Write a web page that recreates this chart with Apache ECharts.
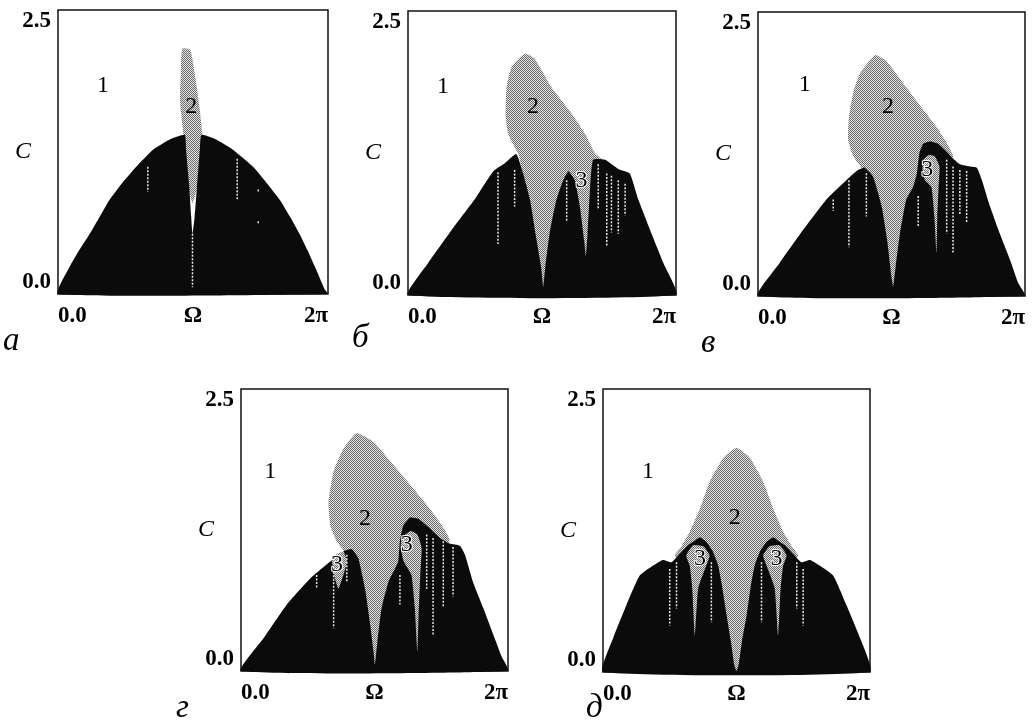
<!DOCTYPE html>
<html><head><meta charset="utf-8">
<script src="https://cdn.jsdelivr.net/npm/echarts@6/dist/echarts.min.js"></script>
<style>html,body{margin:0;padding:0;background:#fff}#c{width:1033px;height:728px}</style>
</head><body><div id="c"></div>
<script>
const PI = Math.PI;
const xTickLabels = ['0.0', 'Ω', '2π'];
const yTickLabels = ['0.0', 'C', '2.5'];
const panelLetters = ['а', 'б', 'в', 'г', 'д'];

// ---- panel а ----
const blackA = [[0,0],[0.27,0.24],[0.50,0.39],[0.74,0.53],[0.97,0.68],[1.20,0.83],[1.50,0.98],[1.82,1.12],[2.21,1.27],[2.60,1.36],[2.95,1.40],[2.98,1.27],[3.05,0.97],[3.10,0.68],[3.13,0.53],[3.18,0.68],[3.24,0.97],[3.30,1.27],[3.34,1.40],[3.68,1.36],[4.07,1.27],[4.54,1.12],[4.85,0.98],[5.16,0.83],[5.40,0.68],[5.62,0.53],[5.80,0.39],[5.98,0.24],[6.21,0.04],[6.283,0]];
const greyA = [[2.89,2.16],[3.08,2.15],[3.22,1.85],[3.30,1.62],[3.36,1.40],[3.33,1.27],[3.26,0.97],[3.13,0.80],[3.02,0.97],[2.95,1.27],[2.92,1.40],[2.84,1.70],[2.86,1.95]];
const streaksA = [[2.09,1.12,0.90],[4.17,1.19,0.83],[4.66,0.92,0.89],[4.66,0.64,0.62],[3.13,0.53,0.06]];
const labelsA = [{t:'1',v:[1.05,1.83]},{t:'2',v:[3.10,1.65]}];

// ---- panel б ----
const blackB = [[0,0],[0.47,0.28],[1.02,0.57],[1.56,0.84],[2.00,1.09],[2.27,1.16],[2.54,1.24],[2.70,1.07],[2.86,0.84],[2.99,0.54],[3.12,0.25],[3.17,0.07],[3.22,0.25],[3.32,0.54],[3.48,0.84],[3.64,1.01],[3.76,1.09],[3.91,1.01],[4.03,0.78],[4.13,0.48],[4.17,0.34],[4.21,0.54],[4.27,0.95],[4.34,1.19],[4.62,1.19],[4.93,1.11],[5.20,1.07],[5.40,0.84],[5.71,0.54],[5.99,0.28],[6.283,0]];
const greyB = [[2.74,2.125],[2.97,2.08],[3.36,1.83],[3.83,1.60],[4.15,1.42],[4.38,1.25],[4.54,1.19],[4.40,0.90],[4.20,0.30],[3.17,0],[2.75,0.95],[2.59,1.24],[2.50,1.30],[2.35,1.42],[2.29,1.57],[2.31,1.83],[2.43,2.01]];
const streaksB = [[2.11,1.08,0.45],[2.50,1.10,0.78],[3.72,1.01,0.65],[4.46,1.15,0.75],[4.66,1.07,0.43],[4.77,1.05,0.55],[4.93,1.01,0.54],[5.09,0.98,0.70]];
const labelsB = [{t:'1',v:[0.82,1.83]},{t:'2',v:[2.93,1.66]},{t:'3',v:[4.07,1.01]}];

// ---- panel в ----
const blackV = [[0,0],[0.51,0.29],[1.06,0.58],[1.61,0.85],[2.08,1.02],[2.32,1.10],[2.51,1.13],[2.71,1.05],[2.91,0.79],[3.04,0.49],[3.14,0.17],[3.18,0.08],[3.24,0.26],[3.34,0.55],[3.49,0.85],[3.65,0.96],[3.74,1.08],[3.80,1.26],[3.89,1.34],[4.05,1.36],[4.24,1.34],[4.44,1.27],[4.59,1.21],[4.75,1.16],[4.99,1.14],[5.15,1.13],[5.27,1.02],[5.46,0.79],[5.69,0.55],[5.93,0.32],[6.13,0.11],[6.283,0]];
const greyV = [[2.75,2.12],[3.02,2.07],[3.42,1.87],[3.89,1.64],[4.20,1.49],[4.44,1.35],[4.59,1.23],[4.40,0.90],[3.18,0],[2.80,0.90],[2.43,1.13],[2.24,1.23],[2.12,1.375],[2.14,1.58],[2.24,1.79],[2.40,1.96]];
const region3V = [[3.89,1.20],[4.01,1.24],[4.16,1.23],[4.27,1.14],[4.25,0.96],[4.22,0.70],[4.20,0.38],[4.15,0.70],[4.08,0.96],[3.93,1.02],[3.87,1.11]];
const streaksV = [[1.77,0.85,0.75],[2.14,1.02,0.43],[2.55,1.08,0.70],[3.77,0.88,0.61],[4.44,1.20,0.55],[4.59,1.14,0.38],[4.75,1.11,0.71],[4.91,1.10,0.64]];
const labelsV = [{t:'1',v:[1.10,1.86]},{t:'2',v:[3.06,1.67]},{t:'3',v:[3.98,1.11]}];

// ---- panel г ----
const blackG = [[0,0],[0.53,0.29],[1.08,0.59],[1.63,0.82],[2.10,0.97],[2.41,1.06],[2.61,1.08],[2.76,1.00],[2.92,0.73],[3.03,0.44],[3.12,0.17],[3.15,0.05],[3.21,0.26],[3.31,0.56],[3.47,0.79],[3.63,0.91],[3.70,0.97],[3.74,1.15],[3.82,1.29],[3.98,1.36],[4.17,1.35],[4.40,1.28],[4.68,1.18],[4.91,1.13],[5.15,1.11],[5.27,1.03],[5.46,0.79],[5.70,0.56],[5.97,0.29],[6.13,0.13],[6.283,0]];
const greyG = [[2.72,2.11],[3.12,2.03],[3.58,1.83],[4.05,1.62],[4.44,1.44],[4.76,1.27],[4.91,1.16],[4.50,0.90],[3.15,0],[2.80,0.85],[2.41,1.07],[2.25,1.15],[2.10,1.29],[2.06,1.50],[2.18,1.77],[2.41,1.97]];
const region3G1 = [[2.14,1.01],[2.41,1.06],[2.49,0.97],[2.41,0.85],[2.29,0.73],[2.19,0.85]];
const region3G2 = [[3.78,1.18],[3.98,1.24],[4.15,1.21],[4.25,1.09],[4.22,0.85],[4.18,0.50],[4.15,0.17],[4.09,0.56],[4.01,0.85],[3.83,0.97],[3.76,1.09]];
const streaksG = [[1.78,0.85,0.73],[2.18,0.88,0.38],[2.49,1.03,0.79],[3.74,0.85,0.59],[4.37,1.21,0.73],[4.52,1.18,0.32],[4.76,1.15,0.56],[4.99,1.10,0.66]];
const labelsG = [{t:'1',v:[0.69,1.77]},{t:'2',v:[2.92,1.35]},{t:'3',v:[2.26,0.94]},{t:'3',v:[3.90,1.12]}];

// ---- panel д ----
const blackD = [[0,0],[0.24,0.30],[0.55,0.59],[0.86,0.85],[1.18,0.94],[1.41,0.99],[1.61,0.97],[1.77,1.03],[2.00,1.12],[2.16,1.16],[2.28,1.19],[2.43,1.15],[2.59,1.06],[2.71,0.94],[2.81,0.74],[2.91,0.50],[3.01,0.27],[3.09,0.06],[3.14,0.01],[3.19,0.06],[3.27,0.27],[3.38,0.50],[3.47,0.74],[3.57,0.94],[3.69,1.06],[3.85,1.15],[4.01,1.19],[4.12,1.16],[4.28,1.12],[4.51,1.03],[4.67,0.97],[4.87,0.99],[5.10,0.94],[5.42,0.85],[5.73,0.59],[6.05,0.30],[6.283,0]];
const greyD = [[3.14,1.98],[3.46,1.89],[3.77,1.68],[4.01,1.44],[4.24,1.24],[4.48,1.09],[4.59,1.03],[4.20,0.80],[3.14,-0.01],[2.10,0.80],[1.69,1.03],[1.81,1.09],[2.04,1.24],[2.28,1.44],[2.51,1.68],[2.83,1.89]];
const region3D1 = [[2.12,1.12],[2.36,1.11],[2.51,1.03],[2.40,0.91],[2.24,0.74],[2.16,0.32],[2.10,0.74],[2.04,0.94],[1.96,1.03]];
const region3D2 = [[4.16,1.12],[3.92,1.11],[3.77,1.03],[3.88,0.91],[4.04,0.74],[4.12,0.32],[4.18,0.74],[4.24,0.94],[4.32,1.03]];
const streaksD = [[1.57,0.91,0.41],[1.73,0.97,0.56],[2.55,0.97,0.44],[3.73,0.97,0.44],[4.56,0.97,0.56],[4.71,0.91,0.41]];
const labelsD = [{t:'1',v:[1.06,1.77]},{t:'2',v:[3.10,1.36]},{t:'3',v:[2.28,1.00]},{t:'3',v:[4.08,1.00]}];

// ---- layout / style ----
const grids = [
  {left:58, top:10, width:270, height:284},
  {left:408, top:11, width:268, height:284},
  {left:758, top:12, width:267, height:284},
  {left:241, top:389, width:267, height:282},
  {left:603, top:389, width:267, height:283}
];
const letterPos = [[13,345],[362,342],[711,347],[186,712],[596,712]];
const panels = [
  {black:blackA, grey:greyA, r3:[], streaks:streaksA, labels:labelsA},
  {black:blackB, grey:greyB, r3:[], streaks:streaksB, labels:labelsB},
  {black:blackV, grey:greyV, r3:[region3V], streaks:streaksV, labels:labelsV},
  {black:blackG, grey:greyG, r3:[region3G1, region3G2], streaks:streaksG, labels:labelsG},
  {black:blackD, grey:greyD, r3:[region3D1, region3D2], streaks:streaksD, labels:labelsD}
];

const cv = document.createElement('canvas');
cv.width = 2; cv.height = 2;
const cx = cv.getContext('2d');
cx.fillStyle = '#e0e0e0'; cx.fillRect(0,0,2,2);
cx.fillStyle = '#6e6e6e'; cx.fillRect(0,0,1,1); cx.fillRect(1,1,1,1);
const stipple = {type:'pattern', image: cv, repeat: 'repeat'};
const FONT = 'Liberation Serif';

function polySeries(g, pts, fill, z) {
  return {
    type:'custom', xAxisIndex:g, yAxisIndex:g, data: pts, z: z, silent:true,
    encode:{x:0, y:1},
    renderItem: function(params, api) {
      if (params.dataIndex !== 0) return null;
      return {type:'polygon', shape:{points: pts.map(p => api.coord(p)), smooth:0.15}, style:{fill: fill, stroke: null}};
    }
  };
}
function streakSeries(g, arr) {
  return {
    type:'custom', xAxisIndex:g, yAxisIndex:g, data: arr, z: 4, silent:true,
    encode:{x:0, y:[1,2]},
    renderItem: function(params, api) {
      const p1 = api.coord([api.value(0), api.value(1)]);
      const p2 = api.coord([api.value(0), api.value(2)]);
      return {type:'line', shape:{x1:p1[0], y1:p1[1], x2:p2[0], y2:p2[1]},
        style:{stroke:'#e8e8e8', lineWidth:1.5, lineDash:[2,1.5]}};
    }
  };
}
function labelSeries(g, labs) {
  return {
    type:'custom', xAxisIndex:g, yAxisIndex:g, data: labs.map(l => l.v), z: 6, silent:true,
    encode:{x:0, y:1},
    renderItem: function(params, api) {
      const p = api.coord([api.value(0), api.value(1)]);
      const t = labs[params.dataIndex].t;
      return {type:'text', x:p[0], y:p[1], z2: 10, style:{text:t, fill:'#000', font:'24px "' + FONT + '"',
        align:'center', verticalAlign:'middle',
        stroke: t === '3' ? '#fff' : null, lineWidth: t === '3' ? 2 : 0}};
    }
  };
}

const xAxes = [], yAxes = [], series = [], gridOpts = [];
grids.forEach((g, i) => {
  gridOpts.push(Object.assign({show:true, borderColor:'#111', borderWidth:1.5, backgroundColor:'#fff', containLabel:false}, g));
  xAxes.push({type:'value', gridIndex:i, min:0, max:2*PI, interval:PI,
    axisLine:{show:false}, axisTick:{show:false}, splitLine:{show:false},
    axisLabel:{margin:11, color:'#000', fontFamily:FONT, fontSize:23, fontWeight:'bold',
      alignMinLabel:'left', alignMaxLabel:'right',
      formatter: v => Math.abs(v) < 0.01 ? xTickLabels[0] : (Math.abs(v-PI) < 0.01 ? xTickLabels[1] : (Math.abs(v-2*PI) < 0.01 ? xTickLabels[2] : ''))}});
  yAxes.push({type:'value', gridIndex:i, min:0, max:2.5, interval:1.25,
    axisLine:{show:false}, axisTick:{show:false}, splitLine:{show:false},
    axisLabel:{margin:7, color:'#000', fontFamily:FONT, fontSize:23, fontWeight:'bold',
      verticalAlignMinLabel:'bottom', verticalAlignMaxLabel:'top',
      formatter: v => Math.abs(v) < 0.01 ? yTickLabels[0] : (Math.abs(v-1.25) < 0.01 ? '{i|' + yTickLabels[1] + '}' : (Math.abs(v-2.5) < 0.01 ? yTickLabels[2] : '')),
      rich:{i:{fontStyle:'italic', fontWeight:'normal', fontFamily:FONT, fontSize:24, color:'#000', padding:[0,20,0,0]}}}});
  const p = panels[i];
  series.push(polySeries(i, p.grey, stipple, 1));
  series.push(polySeries(i, p.black, '#0b0b0b', 2));
  p.r3.forEach(r => series.push(polySeries(i, r, stipple, 3)));
  series.push(streakSeries(i, p.streaks));
  series.push(labelSeries(i, p.labels));
});

const graphic = panelLetters.map((t, i) => ({
  type:'text', left: letterPos[i][0] - 10, top: letterPos[i][1] - 20,
  style:{text:t, font:'italic 33px "' + FONT + '"', fill:'#000'}
}));

const chart = echarts.init(document.getElementById('c'), null, {renderer:'canvas'});
chart.setOption({
  backgroundColor:'#fff', animation:false,
  grid: gridOpts, xAxis: xAxes, yAxis: yAxes, series: series, graphic: graphic
});
</script></body></html>
